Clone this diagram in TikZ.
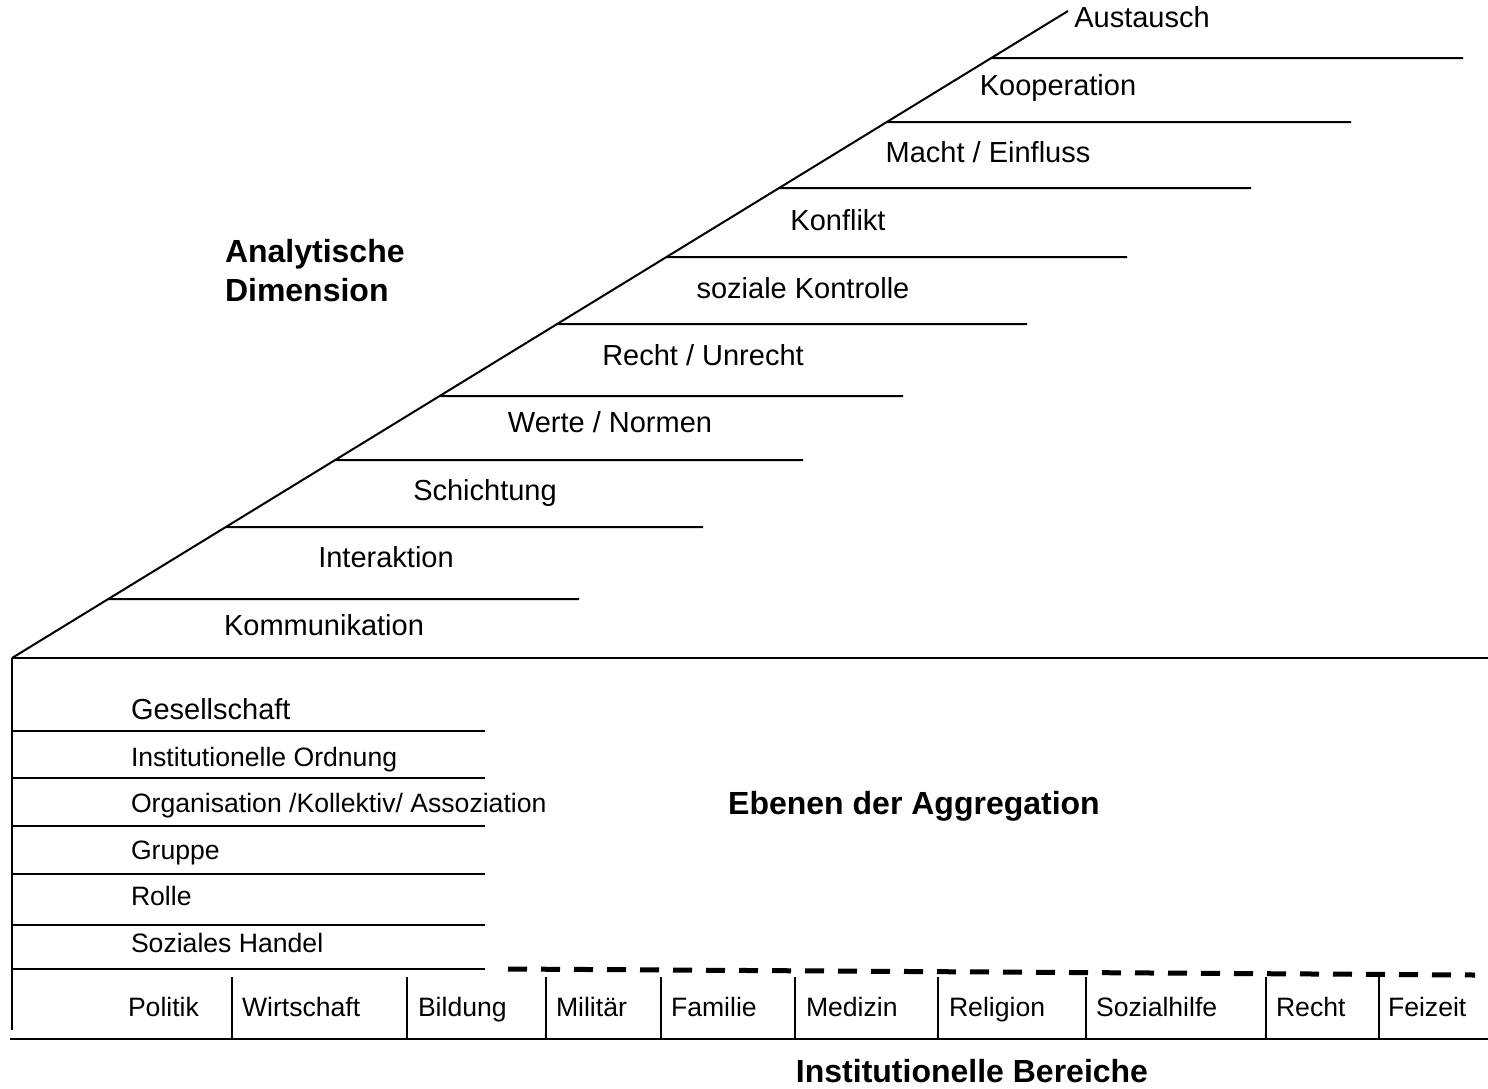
\documentclass[tikz,border=0pt]{standalone}
\usepackage{fontspec}
\setmainfont{Liberation Sans}
\usetikzlibrary{calc}

\begin{document}
\begin{tikzpicture}[x=0.5pt, y=-0.5pt, line width=1pt, line join=bevel,
  lbl/.style={inner sep=0, text height=10.5pt, text depth=3pt, font=\fontsize{14.5}{17}\selectfont},
  sml/.style={inner sep=0, text height=9.6pt, text depth=2.8pt, font=\fontsize{13.3}{16}\selectfont},
  ttl/.style={inner sep=0, align=left, font=\fontsize{16}{19.5}\selectfont\bfseries}]
\useasboundingbox (0,0) rectangle (1488,1088);
% Diagonal
\coordinate (lo) at (12,658);
\coordinate (hi) at (1068,11);
\draw (lo) -- (hi);
% Steps
\foreach \y/\xe in {58/1463,122/1351,188/1251,257/1127,324/1027,396/903,460/803,527/703,599/579}
  \draw ($(lo)!{(658-\y)/647}!(hi)$) -- (\xe,\y);
% Box
\draw (lo) -- (1488,658);
\draw (lo) -- (12,1030);
\draw (10,1039) -- (1488,1039);
\foreach \y in {731,778,826,874,925,969}
  \draw (12,\y) -- (485,\y);
\draw[line width=2.5pt, dash pattern=on 9.5pt off 7pt] (508,969) -- (1475,975);
\foreach \x in {232,407,546,661,795,938,1086,1266,1379}
  \draw (\x,977) -- (\x,1039);
% Text
\node[lbl] (austausch) at (1142,20) {Austausch};
\node[lbl] (kooperation) at (1058,88) {Kooperation};
\node[lbl] (macht) at (988,155) {Macht / Einfluss};
\node[lbl] (konflikt) at (838,223) {Konflikt};
\node[lbl] (kontrolle) at (803,291) {soziale Kontrolle};
\node[lbl] (recht) at (703,358) {Recht / Unrecht};
\node[lbl] (werte) at (610,425) {Werte / Normen};
\node[lbl] (schichtung) at (485,493) {Schichtung};
\node[lbl] (interaktion) at (386,560) {Interaktion};
\node[lbl] (kommunikation) at (324,628) {Kommunikation};

\node[ttl, anchor=north west] (analyt) at (224,238) {Analytische\\Dimension};
\node[ttl] (ebenen) at (914,806) {Ebenen der Aggregation};
\node[ttl, anchor=base] (bereiche) at (972,1082) {Institutionelle Bereiche};

\node[lbl, anchor=west] (gesellschaft) at (130,712) {Gesellschaft};
\node[sml, anchor=west] (ordnung) at (130,760) {Institutionelle Ordnung};
\node[sml, anchor=west] (organisation) at (130,806) {Organisation /Kollektiv/ Assoziation};
\node[sml, anchor=west] (gruppe) at (130,853) {Gruppe};
\node[sml, anchor=west] (rolle) at (130,899) {Rolle};
\node[sml, anchor=west] (handel) at (130,946) {Soziales Handel};

\foreach \x/\t in {127/Politik,241/Wirtschaft,417/Bildung,555/Militär,670/Familie,805/Medizin,948/Religion,1095/Sozialhilfe,1275/Recht,1387/Feizeit}
  \node[sml, anchor=west] (b-\t) at (\x,1010) {\t};
\end{tikzpicture}
\end{document}
